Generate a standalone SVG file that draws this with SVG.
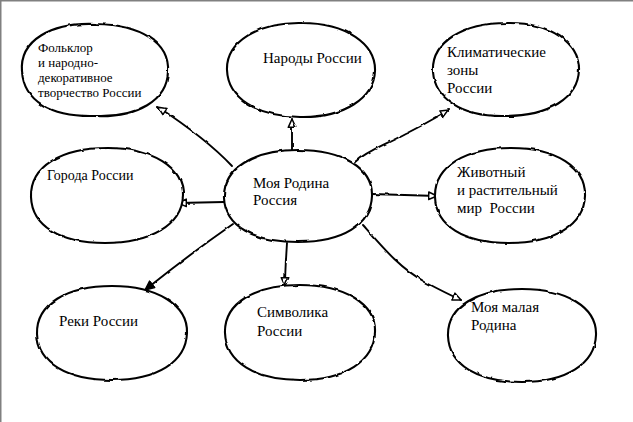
<svg xmlns="http://www.w3.org/2000/svg" width="633" height="422" viewBox="0 0 633 422">
<style>
.bg{fill:#ffffff}
.frame{fill:none;stroke:#808080;stroke-width:1.5}
.blob{fill:#ffffff;stroke:#000000;stroke-width:2.1;stroke-linejoin:round;filter:url(#rough)}
.t{font-family:"Liberation Serif","Times New Roman",serif;fill:#000000;font-size:15px}
.s13{font-size:13px}
.s14{font-size:14px}
.link{fill:none;stroke:#000000;stroke-width:1.9;stroke-linecap:round}
</style>
<defs>
<filter id="rough" filterUnits="userSpaceOnUse" x="0" y="0" width="633" height="422">
<feTurbulence type="fractalNoise" baseFrequency="0.09" numOctaves="2" seed="3" result="n"/>
<feDisplacementMap in="SourceGraphic" in2="n" scale="2.6" xChannelSelector="R" yChannelSelector="G"/>
</filter>
<marker id="open" viewBox="0 0 12 12" refX="11" refY="6" markerUnits="userSpaceOnUse" markerWidth="10" markerHeight="10" orient="auto">
<path d="M1,1.5 L11,6 L1,10.5 Z" fill="#ffffff" stroke="#000000" stroke-width="1.8" stroke-linejoin="round"/>
</marker>
<marker id="solid" viewBox="0 0 12 12" refX="11" refY="6" markerUnits="userSpaceOnUse" markerWidth="11" markerHeight="11" orient="auto">
<path d="M1,1.5 L11,6 L1,10.5 Z" fill="#000000" stroke="#000000" stroke-width="1.6" stroke-linejoin="round"/>
</marker>
</defs>
<rect class="bg" x="0" y="0" width="633" height="422"/>
<path class="frame" d="M0.75,422 V0.75 H633"/>

<g id="connectors" filter="url(#rough)">
<path class="link" d="M232,166 C215,148 190,128 158,107" marker-end="url(#open)"/>
<path class="link" d="M292,151 L292,119" marker-end="url(#open)"/>
<path class="link" d="M355,162 C368,150 385,145 405,134 C420,127 435,118 449,110" marker-end="url(#open)"/>
<path class="link" d="M372,194 L437,196" marker-end="url(#open)"/>
<path class="link" d="M224,202 L178,203" marker-end="url(#open)"/>
<path class="link" d="M233,224 C210,240 185,258 145,290" marker-end="url(#solid)"/>
<path class="link" d="M287,243 C286,260 285,272 285,286" marker-end="url(#open)"/>
<path class="link" d="M363,225 C385,250 400,268 425,282 C440,290 450,295 461,300" marker-end="url(#open)"/>
</g>

<g id="node-folklore">
<path class="blob" d="M22,72 C19,40 52,22 96,24 C140,25 170,42 168,72 C167,100 138,118 94,116 C50,117 24,100 22,72Z"/>
<text class="t s13" x="38" y="52">Фольклор</text>
<text class="t s13" x="38" y="67">и народно-</text>
<text class="t s13" x="38" y="82">декоративное</text>
<text class="t s13" x="38" y="97">творчество России</text>
</g>

<g id="node-narody">
<path class="blob" d="M227,70 C226,42 258,22 302,23 C346,23 376,44 375,71 C374,98 344,118 300,117 C256,116 228,98 227,70Z"/>
<text class="t" x="263" y="63">Народы России</text>
</g>

<g id="node-klimat">
<path class="blob" d="M433,72 C431,42 463,23 507,23 C551,22 580,44 579,70 C578,98 549,116 505,116 C461,117 435,98 433,72Z"/>
<text class="t" x="447" y="57">Климатические</text>
<text class="t" x="447" y="75">зоны</text>
<text class="t" x="447" y="93">России</text>
</g>

<g id="node-goroda">
<path class="blob" d="M31,197 C30,166 62,148 107,148 C152,148 184,167 183,196 C182,225 150,243 105,243 C60,243 32,226 31,197Z"/>
<text class="t s14" x="47" y="180">Города России</text>
</g>

<g id="node-center">
<path class="blob" d="M224,198 C223,168 254,150 298,150 C342,150 373,168 372,196 C371,225 342,242 298,242 C254,242 225,226 224,198Z"/>
<text class="t" x="253" y="188">Моя Родина</text>
<text class="t" x="253" y="205">Россия</text>
</g>

<g id="node-zhivotny">
<path class="blob" d="M435,197 C434,166 466,148 511,148 C556,148 586,167 585,196 C584,225 554,243 509,243 C464,243 436,226 435,197Z"/>
<text class="t" x="457" y="177">Животный</text>
<text class="t" x="457" y="195">и растительный</text>
<text class="t" x="457" y="213">мир&#160; России</text>
</g>

<g id="node-reki">
<path class="blob" d="M37,334 C36,304 67,286 112,286 C157,286 188,305 187,333 C186,362 157,380 112,380 C67,380 38,363 37,334Z"/>
<text class="t" x="59" y="326">Реки России</text>
</g>

<g id="node-simvolika">
<path class="blob" d="M225,333 C224,303 255,285 300,285 C345,285 376,304 375,332 C374,361 345,380 300,380 C255,380 226,362 225,333Z"/>
<text class="t" x="257" y="317">Символика</text>
<text class="t" x="257" y="336">России</text>
</g>

<g id="node-malaya">
<path class="blob" d="M448,336 C447,306 478,289 522,289 C566,289 597,307 596,335 C595,364 566,382 522,382 C478,382 449,365 448,336Z"/>
<text class="t" x="471" y="312">Моя малая</text>
<text class="t" x="471" y="330">Родина</text>
</g>
</svg>
